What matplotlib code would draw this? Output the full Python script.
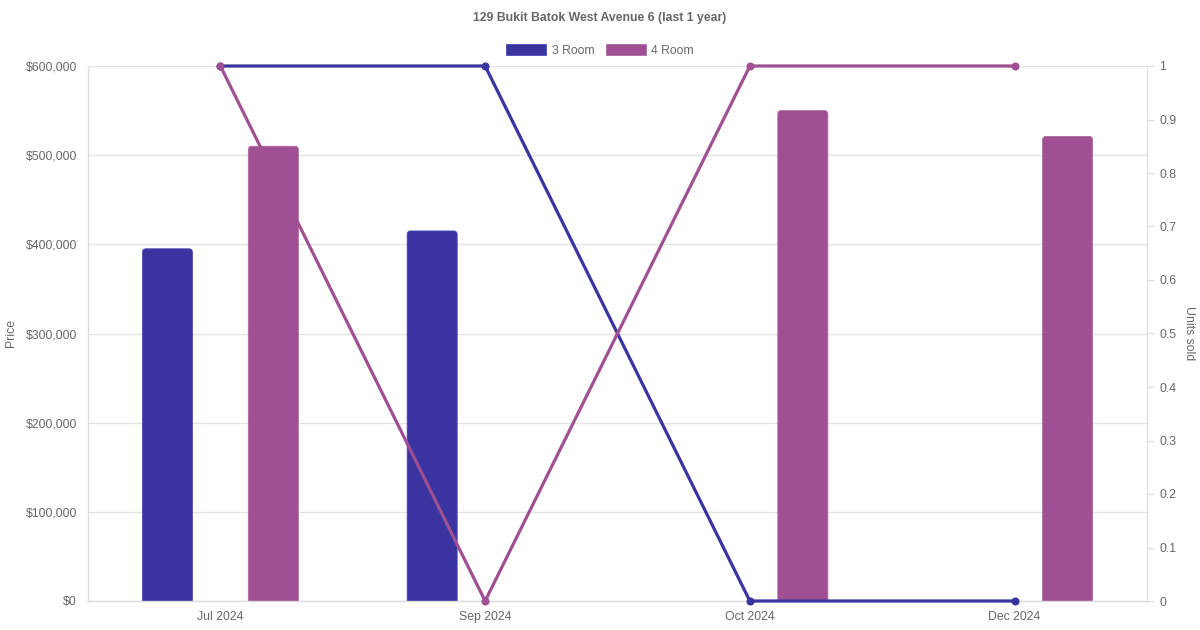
import numpy as np
import matplotlib
matplotlib.use("Agg")
import matplotlib.pyplot as plt
from matplotlib.patches import FancyBboxPatch, Rectangle
from matplotlib.ticker import FuncFormatter, MultipleLocator

plt.rcParams['font.family'] = ['Liberation Sans', 'DejaVu Sans']

# ---- data ----
months = ["Jul 2024", "Sep 2024", "Oct 2024", "Dec 2024"]
price_3room = [395000, 415000, np.nan, np.nan]
price_4room = [510000, np.nan, 550000, 521000]
units_3room = [1, 1, 0, 0]
units_4room = [1, 0, 1, 1]
series_names = ["3 Room", "4 Room"]
title = "129 Bukit Batok West Avenue 6 (last 1 year)"

c3 = "#39349f"
c4 = "#a05092"
edge3 = "#4e49b8"
edge4 = "#b06aa4"
txt = "#666666"
grid = "#e4e4e4"

W, H = 1200, 630
fig = plt.figure(figsize=(12, 6.3), dpi=100)
L, R, T, B = 88, 1147, 66, 601
ax = fig.add_axes([L / W, 1 - B / H, (R - L) / W, (B - T) / H])
ax2 = ax.twinx()

x = np.arange(len(months))
ax.set_xlim(-0.5, len(months) - 0.5)
ax.set_ylim(0, 600000)
ax2.set_ylim(0, 1)

# bars
off = 0.2
bw = 0.189
px_x = (len(months)) / (R - L)
px_y = 600000 / (B - T)
rad = 3.5
rx = rad * px_x
ry = rad * px_y
for vals, dx, fc, ec in [(price_3room, -off, c3, edge3), (price_4room, off, c4, edge4)]:
    vals = np.asarray(vals, dtype=float)
    mask = ~np.isnan(vals)
    bars = ax.bar(x[mask] + dx, vals[mask], width=bw, color=fc)
    for b in bars:
        bx, by = b.get_x(), b.get_y()
        bwid, bh = b.get_width(), b.get_height()
        b.remove()
        p = FancyBboxPatch((bx, by - ry * 2), bwid, bh + ry * 2,
                           boxstyle=f"round,pad=0,rounding_size={rx}",
                           mutation_aspect=ry / rx,
                           facecolor=fc, edgecolor=ec, linewidth=0.6, zorder=2)
        ax.add_patch(p)

# lines on the right axis
ax2.plot(x, units_3room, color=c3, lw=2.3, marker='o', markersize=4.8, clip_on=False, zorder=5)
ax2.plot(x, units_4room, color=c4, lw=2.3, marker='o', markersize=4.8, clip_on=False, zorder=5)
ax2.set_zorder(ax.get_zorder() + 1)
ax2.patch.set_visible(False)

# left axis styling
ax.yaxis.set_major_locator(MultipleLocator(100000))
ax.yaxis.set_major_formatter(FuncFormatter(lambda v, p: f"${v:,.0f}"))
ax.grid(axis='y', color=grid, lw=1)
ax.set_axisbelow(True)
ax.tick_params(axis='y', length=0, pad=8, labelsize=8.8, labelcolor=txt)
ax.set_xticks(x)
ax.set_xticklabels(months)
ax.tick_params(axis='x', length=0, pad=7.5, labelsize=8.8, labelcolor=txt)
for s in ['top', 'right']:
    ax.spines[s].set_visible(False)
for s in ['left', 'bottom']:
    ax.spines[s].set_color('#dcdcdc')
    ax.spines[s].set_linewidth(1)

# right axis styling
ax2.yaxis.set_major_locator(MultipleLocator(0.1))
ax2.yaxis.set_major_formatter(FuncFormatter(lambda v, p: f"{round(v, 1):g}"))
ax2.tick_params(axis='y', length=5, width=0.8, color='#dcdcdc', pad=4, labelsize=8.8, labelcolor=txt)
for s in ['top', 'left', 'bottom']:
    ax2.spines[s].set_visible(False)
ax2.spines['right'].set_color('#dcdcdc')

# axis titles
fig.text(11 / W, 1 - 333 / H, "Price", rotation=90, ha='center', va='center', fontsize=8.8, color=txt)
fig.text(1189 / W, 1 - 333 / H, "Units sold", rotation=270, ha='center', va='center', fontsize=8.8, color=txt)

# title
fig.text(0.5, 1 - 17.5 / H, title, ha='center', va='center', fontsize=8.8, fontweight='bold', color=txt)

# legend
handles = [Rectangle((0, 0), 1, 1, facecolor=c3, edgecolor=edge3, lw=0.6),
           Rectangle((0, 0), 1, 1, facecolor=c4, edgecolor=edge4, lw=0.6)]
leg = fig.legend(handles, series_names, loc='center', bbox_to_anchor=(0.5, 1 - 50.5 / H), ncol=2,
                 frameon=False, fontsize=8.8, handlelength=3.3, handleheight=1.0,
                 handletextpad=0.45, columnspacing=0.9, labelcolor=txt)

fig.savefig("out.png", dpi=100)
